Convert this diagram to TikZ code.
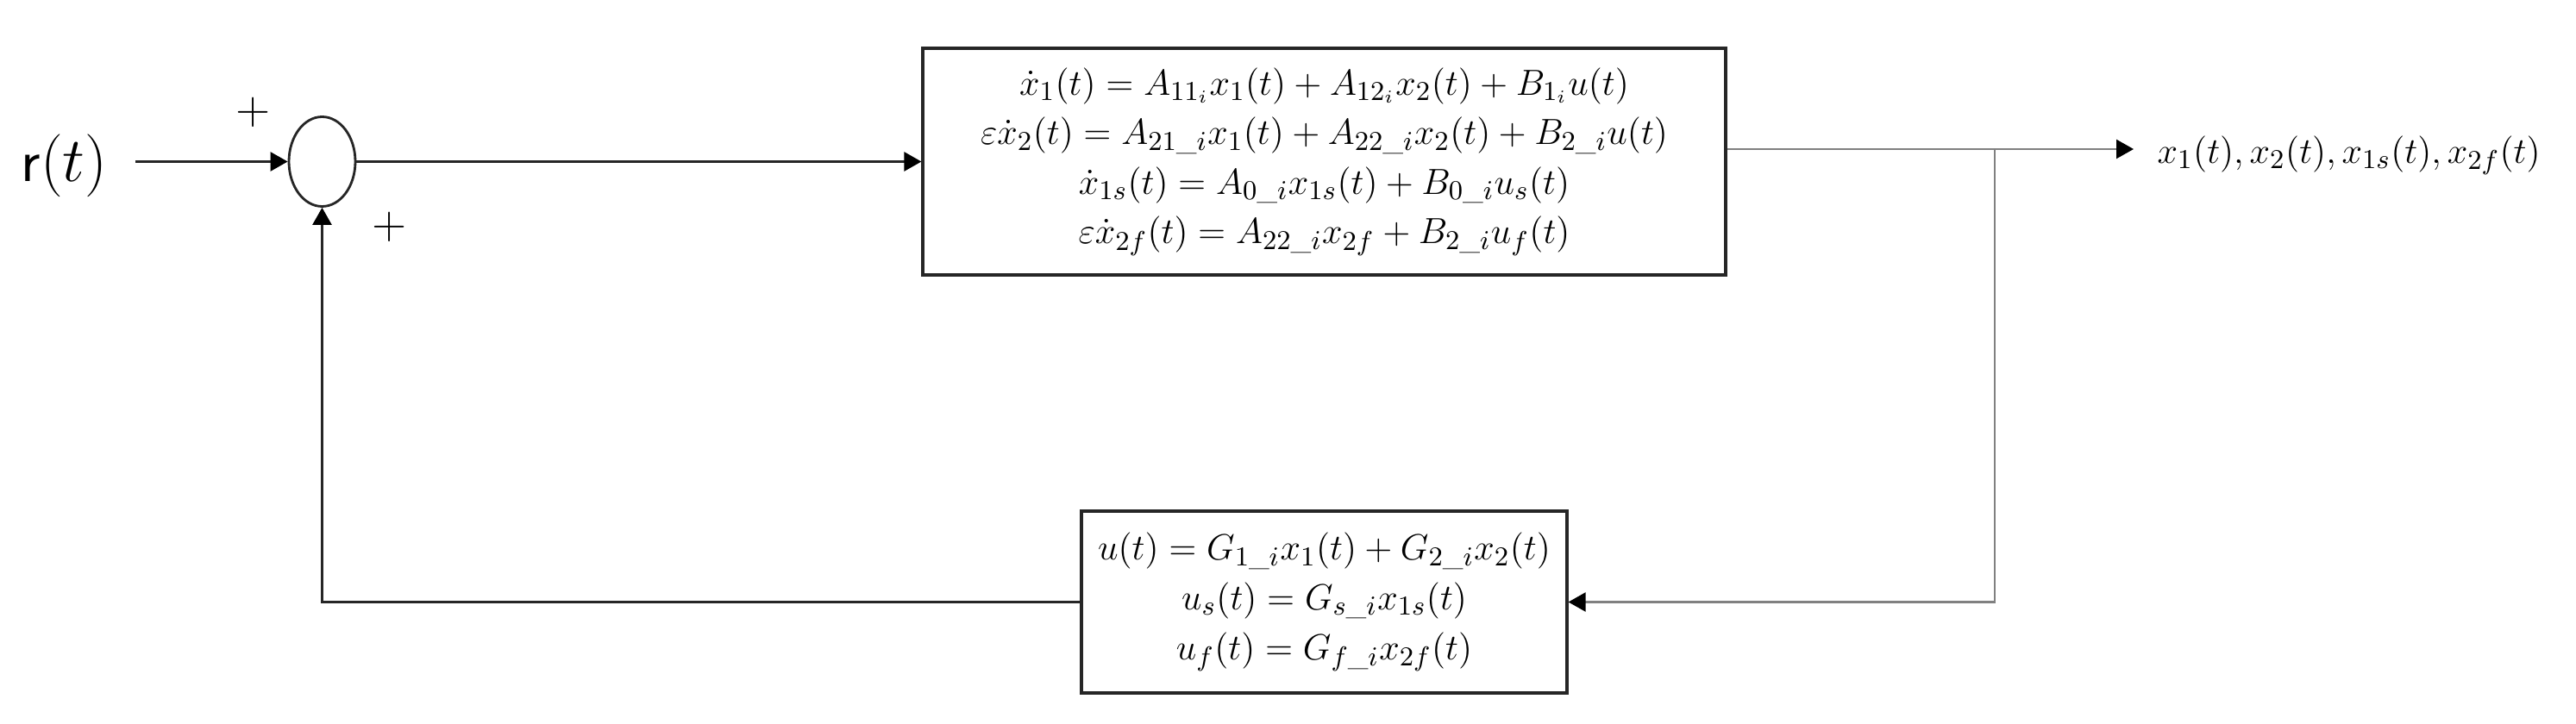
\documentclass[tikz,border=0pt]{standalone}
\usepackage{amsmath}
\usetikzlibrary{arrows.meta,shapes.geometric}
\newcommand{\usc}{\text{\_}}
\tikzset{
  blk/.style={draw=black!85, line width=0.9pt, align=center, inner sep=0pt,
    font=\fontsize{12.5}{16.4}\selectfont},
  conn/.style={draw=black!85, line width=0.75pt},
  grayconn/.style={draw=black!50, line width=0.65pt},
  arr/.style={-{Triangle[length=0.2cm,width=0.22cm,color=black]}},
  sgn/.style={font=\sffamily\fontsize{15}{15}\selectfont, inner sep=0pt},
}
\begin{document}
\begin{tikzpicture}
\useasboundingbox (0,0) rectangle (29.87,8.40);
\fill[white] (0,0) rectangle (29.87,8.40);

\node[blk, minimum width=9.31cm, minimum height=2.63cm] (plant) at (15.355,6.525)
 {$\dot x_1(t) = A_{11_i}x_1(t) + A_{12_i}x_2(t) + B_{1_i}u(t)$\\
  $\varepsilon\dot x_2(t) = A_{21\usc i}x_1(t) + A_{22\usc i}x_2(t) + B_{2\usc i}u(t)$\\
  $\dot x_{1s}(t) = A_{0\usc i}x_{1s}(t) + B_{0\usc i}u_s(t)$\\
  $\varepsilon\dot x_{2f}(t) = A_{22\usc i}x_{2f} + B_{2\usc i}u_f(t)$};

\node[blk, minimum width=5.63cm, minimum height=2.11cm] (fb) at (15.355,1.415)
 {$u(t) = G_{1\usc i}x_1(t) + G_{2\usc i}x_2(t)$\\
  $u_s(t) = G_{s\usc i}x_{1s}(t)$\\
  $u_f(t) = G_{f\usc i}x_{2f}(t)$};

\node[draw=black!85, ellipse, line width=0.8pt, minimum width=0.77cm, minimum height=1.04cm, inner sep=0pt] (sum) at (3.735,6.525) {};

\node[font=\fontsize{20}{20}\selectfont, inner sep=0pt] (r) at (0.745,6.48) {\textsf{r}$(t)$};
\coordinate (in) at (1.57,6.525);

\node[sgn] (p1) at (2.94,7.10) {+};
\node[sgn] (p2) at (4.52,5.77) {+};

\coordinate (br) at (23.13,6.67);
\coordinate (out) at (24.74,6.67);
\node[anchor=west, inner sep=0pt, font=\fontsize{12.5}{15}\selectfont] (ylab) at (25.01,6.60)
 {$x_1(t), x_2(t), x_{1s}(t), x_{2f}(t)$};

\draw[conn,arr] (in) -- (sum.west);
\draw[conn,arr] (sum.east) -- (plant.west);
\draw[grayconn] (plant.east |- br) -- (br);
\draw[grayconn,arr] (br) -- (out);
\draw[grayconn,arr] (br) |- (fb.east);
\draw[conn,arr] (fb.west) -| (sum.south);
\end{tikzpicture}
\end{document}
